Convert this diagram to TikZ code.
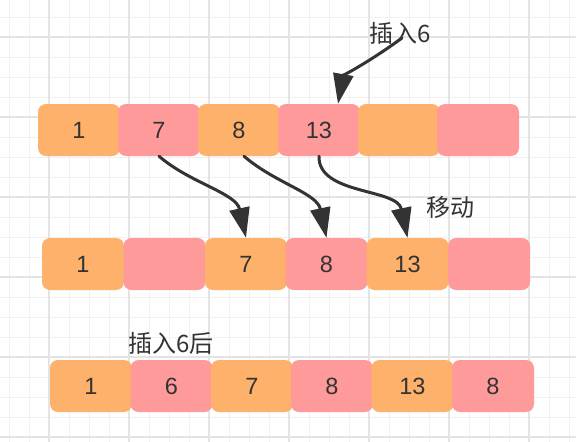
\documentclass[tikz,border=0pt]{standalone}
\usepackage{fontspec}
\setmainfont{Liberation Sans}
\newfontfamily\cjk{Noto Sans CJK SC}
\usetikzlibrary{arrows.meta}
\definecolor{boxorange}{HTML}{FDB16B}
\definecolor{boxpink}{HTML}{FF9A9B}
\definecolor{ink}{HTML}{333333}
\definecolor{gridminor}{HTML}{F1F1F1}
\definecolor{gridmajor}{HTML}{E4E4E4}
\tikzset{
  cell/.style={minimum width=82pt, minimum height=52pt, rounded corners=8pt, inner sep=0pt, text=ink, font=\fontsize{23.5}{23.5}\selectfont},
  ob/.style={cell, fill=boxorange},
  pb/.style={cell, fill=boxpink},
  lbl/.style={text=ink, font=\cjk\fontsize{24}{24}\selectfont, inner sep=0pt},
  mv/.style={draw=ink, line width=3pt, line cap=round, -{Triangle[length=30pt,width=20pt]}}
}
\begin{document}
\begin{tikzpicture}[x=1pt,y=-1pt]
\fill[white] (0,0) rectangle (576,442);
\useasboundingbox (0,0) rectangle (576,442);
% grid
\foreach \x in {9,29,...,569} \draw[gridminor,line width=1pt] (\x,0) -- (\x,442);
\foreach \y in {17,37,...,437} \draw[gridminor,line width=1pt] (0,\y) -- (576,\y);
\foreach \x in {49,129,...,529} \draw[gridmajor,line width=1.3pt] (\x,0) -- (\x,442);
\foreach \y in {37,117,...,437} \draw[gridmajor,line width=1.3pt] (0,\y) -- (576,\y);
% row 1
\node[ob] (r1a) at (79,130) {1};
\node[pb] (r1b) at (159,130) {7};
\node[ob] (r1c) at (239,130) {8};
\node[pb] (r1d) at (319,130) {13};
\node[ob] (r1e) at (399,130) {};
\node[pb] (r1f) at (478,130) {};
% row 2
\node[ob] (r2a) at (83,264) {1};
\node[pb] (r2b) at (164.5,264) {};
\node[ob] (r2c) at (246,264) {7};
\node[pb] (r2d) at (326.5,264) {8};
\node[ob] (r2e) at (407.5,264) {13};
\node[pb] (r2f) at (489,264) {};
% row 3
\node[ob] (r3a) at (91,386) {1};
\node[pb] (r3b) at (171.5,386) {6};
\node[ob] (r3c) at (252,386) {7};
\node[pb] (r3d) at (332,386) {8};
\node[ob] (r3e) at (412.5,386) {13};
\node[pb] (r3f) at (493,386) {8};
% labels
\node[lbl] (ins) at (400,33) {插入6};
\node[lbl] (mov) at (450,207) {移动};
\node[lbl] (after) at (171,343) {插入6后};
% arrows
\coordinate (s0) at (402,38);
\draw[mv] (s0) .. controls (372,60) and (343,76) .. ([xshift=19pt]r1d.north);
\draw[mv] (r1b.south) .. controls (190,183) and (236,193) .. (r2c.north);
\draw[mv] ([xshift=5pt]r1c.south) .. controls (275,183) and (317,193) .. (r2d.north);
\draw[mv] (r1d.south) .. controls (318,195) and (397,188) .. (r2e.north);
\end{tikzpicture}
\end{document}
